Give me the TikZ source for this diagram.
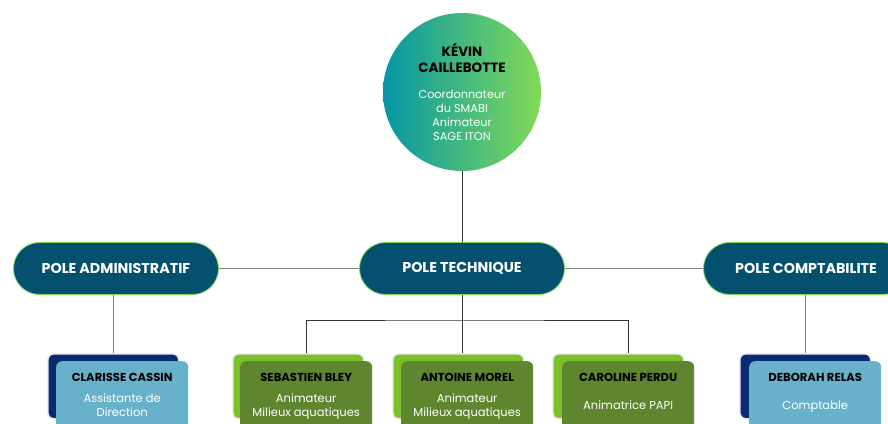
\documentclass[tikz,border=0pt]{standalone}
\usepackage{fontspec}
\setmainfont{Poppins}
\usetikzlibrary{positioning}

\definecolor{poleblue}{HTML}{03506F}
\definecolor{polerim}{HTML}{7ED957}
\definecolor{circteal}{HTML}{0596A8}
\definecolor{circgreen}{HTML}{82DA56}
\definecolor{adminback}{HTML}{0A2A73}
\definecolor{adminfront}{HTML}{67B2CA}
\definecolor{techback}{HTML}{7BC02A}
\definecolor{techfront}{HTML}{5E862E}
\definecolor{linegray}{HTML}{808080}
\definecolor{stemgray}{HTML}{333333}

\tikzset{
  chief/.style={circle, minimum size=158pt, inner sep=0pt, left color=circteal,
    right color=circgreen, align=center, text=white,
    font=\fontsize{11.3}{14}\selectfont},
  pole/.style={draw=polerim, line width=0.8pt, fill=poleblue, rounded corners=26pt,
    minimum width=205pt, minimum height=52pt, text=white,
    font=\bfseries\fontsize{14.3}{16}\selectfont},
  backbox/.style={draw=black!8, line width=1.6pt, rounded corners=6pt, anchor=north west,
    minimum width=131pt, minimum height=65pt, inner sep=0pt},
  frontbox/.style={rounded corners=6pt, anchor=north west,
    minimum width=132pt, minimum height=75pt, inner sep=0pt},
  boxtext/.style={align=center, inner sep=0pt, anchor=north, text=white,
    font=\fontsize{11.5}{14}\selectfont},
  link/.style={draw=linegray, line width=1pt},
  stem/.style={draw=stemgray, line width=0.8pt}
}

\newcommand{\who}[1]{{\color{black}\bfseries\fontsize{11.6}{14}\selectfont #1}}
\newcommand{\bigwho}{\color{black}\bfseries\fontsize{13.5}{17}\selectfont}

\begin{document}
\begin{tikzpicture}[x=1pt, y=-1pt]
  \useasboundingbox (0,0) rectangle (888,423);
  \clip (0,0) rectangle (888,423);

  % coordonnateur
  \node[chief] (kevin) at (462,92) {\bigwho KÉVIN\\[2pt]\bigwho CAILLEBOTTE\\[12pt]
    Coordonnateur\\du SMABI\\Animateur\\SAGE ITON};

  % poles
  \node[pole] (admin) at (116,268.5) {POLE ADMINISTRATIF};
  \node[pole] (tech) at (462,268.5) {POLE TECHNIQUE};
  \node[pole] (compta) at (806,268.5) {POLE COMPTABILITE};

  % agents
  \node[backbox, fill=adminback] (clarisseb) at (47,353) {};
  \node[frontbox, fill=adminfront] (clarisse) at (56,361) {};
  \node[backbox, fill=techback] (sebb) at (232,353) {};
  \node[frontbox, fill=techfront] (seb) at (240,361) {};
  \node[backbox, fill=techback] (antoineb) at (392,353) {};
  \node[frontbox, fill=techfront] (antoine) at (401,361) {};
  \node[backbox, fill=techback] (carolineb) at (552,353) {};
  \node[frontbox, fill=techfront] (caroline) at (562,361) {};
  \node[backbox, fill=adminback] (deborahb) at (739,353) {};
  \node[frontbox, fill=adminfront] (deborah) at (749,361) {};

  \node[boxtext, below=12.5pt of clarisse.north] (clarisset) {\who{CLARISSE CASSIN}\\[7pt]Assistante de\\Direction};
  \node[boxtext, below=12.5pt of seb.north] (sebt) {\who{SEBASTIEN BLEY}\\[7pt]Animateur\\Milieux aquatiques};
  \node[boxtext, below=12.5pt of antoine.north] (antoinet) {\who{ANTOINE MOREL}\\[7pt]Animateur\\Milieux aquatiques};
  \node[boxtext, below=12.5pt of caroline.north] (carolinet) {\who{CAROLINE PERDU}\\[14pt]Animatrice PAPI};
  \node[boxtext, below=12.5pt of deborah.north] (deboraht) {\who{DEBORAH RELAS}\\[14pt]Comptable};

  % liaisons
  \coordinate (fork) at (462,320);
  \draw[stem] (kevin.south) -- (tech.north);
  \draw[link] (admin.east) -- (tech.west);
  \draw[link] (tech.east) -- (compta.west);
  \draw[link] (admin.south -| clarisseb.north) -- (clarisseb.north);
  \draw[link] (compta.south -| deborahb.north) -- (deborahb.north);
  \draw[stem] (tech.south) -- (tech.south |- antoineb.north);
  \draw[stem] (seb.north |- sebb.north) |- (fork) -| (caroline.north |- carolineb.north);
\end{tikzpicture}
\end{document}
